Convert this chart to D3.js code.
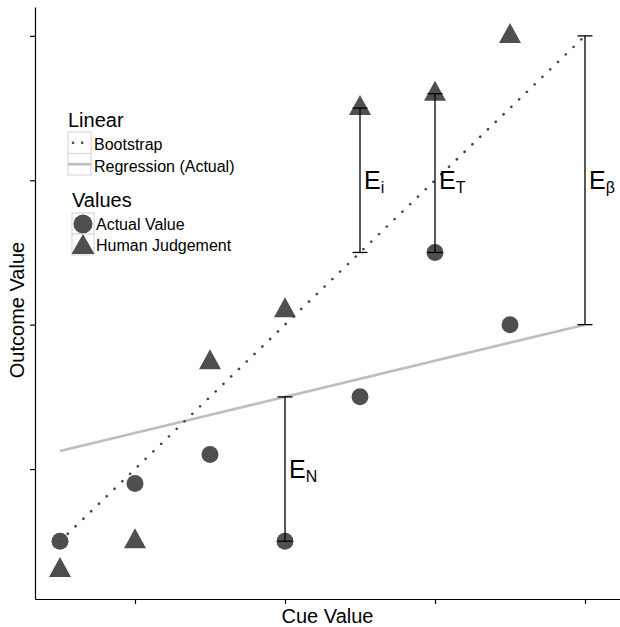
<!DOCTYPE html>
<html>
<head>
<meta charset="utf-8">
<script src="https://cdn.jsdelivr.net/npm/d3@7/dist/d3.min.js"></script>
<style>
  body { margin: 0; background: #fff; }
  svg { display: block; font-family: "Liberation Sans", Arial, sans-serif; }
</style>
</head>
<body>
<div id="chart"></div>
<script>
// chart values
const cueValues = [1, 2, 3, 4, 5, 6, 7];
const actualValues = [2.5, 4.5, 5.5, 2.5, 7.5, 12.5, 10];
const humanJudgements = [1.5, 2.5, 8.7, 10.5, 17.5, 18, 20];

const lineCue = [1, 8];
const bootstrapLine = [2.5, 20];
const regressionLine = [5.625, 10];

const errCue = [5, 6, 8, 4];
const errLow = [12.5, 12.5, 10, 2.5];
const errHigh = [17.5, 18, 20, 7.5];
const errSub = ["i", "T", "β", "N"];
const errLabelAt = [15, 15, 15, 5];

const xTicks = [2, 4, 6, 8];
const yTicks = [5, 10, 15, 20];

const width = 620;
const height = 627;
const margin = { t: 7, r: 0, b: 28, l: 35 };

const pointColor = "#4f4f4f";
const regColor = "#bebebe";

const svg = d3
  .select("#chart")
  .append("svg")
  .attr("width", width)
  .attr("height", height);

const xScale = d3
  .scaleLinear()
  .domain([2 / 3, 8.4667])
  .range([margin.l, width - margin.r]);

const yScale = d3
  .scaleLinear()
  .domain([0.5, 21])
  .range([height - margin.b, margin.t]);

// axes, no tick labels
svg
  .append("g")
  .attr("transform", `translate(0, ${height - margin.b})`)
  .call(d3.axisBottom(xScale).tickValues(xTicks).tickSize(5).tickFormat("").tickSizeOuter(0))
  .call((g) => g.selectAll("line, path").attr("stroke", "#000").attr("stroke-width", 1.2));

svg
  .append("g")
  .attr("transform", `translate(${margin.l}, 0)`)
  .call(d3.axisLeft(yScale).tickValues(yTicks).tickSize(5).tickFormat("").tickSizeOuter(0))
  .call((g) => g.selectAll("line, path").attr("stroke", "#000").attr("stroke-width", 1.2));

svg
  .append("text")
  .attr("x", (margin.l + width) / 2)
  .attr("y", 623)
  .attr("text-anchor", "middle")
  .attr("font-size", "20px")
  .text("Cue Value");

svg
  .append("text")
  .attr("transform", `translate(24, ${(margin.t + height - margin.b) / 2 + 7}) rotate(-90)`)
  .attr("text-anchor", "middle")
  .attr("font-size", "20px")
  .text("Outcome Value");

// triangle path centred on the data point (point sits low in the shape)
function triangle(cx, cy, w, h) {
  const top = cy - h * 0.65;
  const bot = cy + h * 0.35;
  return `M${cx},${top}L${cx + w / 2},${bot}L${cx - w / 2},${bot}Z`;
}

const plot = svg.append("g");

plot
  .selectAll("circle.actual")
  .data(cueValues)
  .enter()
  .append("circle")
  .attr("class", "actual")
  .attr("cx", (d) => xScale(d))
  .attr("cy", (d, i) => yScale(actualValues[i]))
  .attr("r", 8.5)
  .attr("fill", pointColor);

plot
  .selectAll("path.human")
  .data(cueValues)
  .enter()
  .append("path")
  .attr("class", "human")
  .attr("d", (d, i) => triangle(xScale(d), yScale(humanJudgements[i]), 22, 20))
  .attr("fill", pointColor);

// lines
plot
  .append("line")
  .attr("x1", xScale(lineCue[0]))
  .attr("x2", xScale(lineCue[1]))
  .attr("y1", yScale(regressionLine[0]))
  .attr("y2", yScale(regressionLine[1]))
  .attr("stroke", regColor)
  .attr("stroke-width", 2.6);

plot
  .append("line")
  .attr("x1", xScale(lineCue[0]))
  .attr("x2", xScale(lineCue[1]))
  .attr("y1", yScale(bootstrapLine[0]))
  .attr("y2", yScale(bootstrapLine[1]))
  .attr("stroke", "#444")
  .attr("stroke-width", 2.6)
  .attr("stroke-linecap", "round")
  .attr("stroke-dasharray", "0.1 10.7");

// error bars
const bars = plot
  .selectAll("g.err")
  .data(errCue)
  .enter()
  .append("g")
  .attr("class", "err");

bars
  .append("line")
  .attr("x1", (d) => xScale(d))
  .attr("x2", (d) => xScale(d))
  .attr("y1", (d, i) => yScale(errLow[i]))
  .attr("y2", (d, i) => yScale(errHigh[i]))
  .attr("stroke", "#000")
  .attr("stroke-width", 1.3);

[errLow, errHigh].forEach((ends) => {
  bars
    .append("line")
    .attr("x1", (d) => xScale(d) - 7.5)
    .attr("x2", (d) => xScale(d) + 7.5)
    .attr("y1", (d, i) => yScale(ends[i]))
    .attr("y2", (d, i) => yScale(ends[i]))
    .attr("stroke", "#000")
    .attr("stroke-width", 1.3);
});

const labels = bars
  .append("text")
  .attr("x", (d) => xScale(d) + 4)
  .attr("y", (d, i) => yScale(errLabelAt[i]) + 9)
  .attr("font-size", "25px")
  .attr("fill", "#000");

labels.append("tspan").text("E");
labels
  .append("tspan")
  .attr("dy", 4)
  .attr("font-size", "16px")
  .text((d, i) => errSub[i]);

// legend
const legend = svg.append("g");

legend
  .append("text")
  .attr("x", 68)
  .attr("y", 127)
  .attr("font-size", "20px")
  .text("Linear");

const linearKeys = ["Bootstrap", "Regression (Actual)"];
linearKeys.forEach((name, i) => {
  const y0 = 132 + i * 21.5;
  legend
    .append("rect")
    .attr("x", 68)
    .attr("y", y0)
    .attr("width", 23)
    .attr("height", 21.5)
    .attr("fill", "#fff")
    .attr("stroke", "#d4d4d4")
    .attr("stroke-width", 1);
  const key = legend
    .append("line")
    .attr("x1", 68)
    .attr("x2", 91)
    .attr("y1", y0 + 10.75)
    .attr("y2", y0 + 10.75)
    .attr("stroke-width", 2.6);
  if (i === 0) {
    key
      .attr("x1", 73)
      .attr("x2", 84)
      .attr("stroke", "#444")
      .attr("stroke-linecap", "round")
      .attr("stroke-dasharray", "0.1 9");
  } else {
    key.attr("stroke", regColor);
  }
  legend
    .append("text")
    .attr("x", 94)
    .attr("y", y0 + 18)
    .attr("font-size", "16px")
    .text(name);
});

legend
  .append("text")
  .attr("x", 72)
  .attr("y", 207)
  .attr("font-size", "20px")
  .text("Values");

const valueKeys = ["Actual Value", "Human Judgement"];
valueKeys.forEach((name, i) => {
  const y0 = 213 + i * 21;
  legend
    .append("rect")
    .attr("x", 72)
    .attr("y", y0)
    .attr("width", 22)
    .attr("height", 21)
    .attr("fill", "#fff")
    .attr("stroke", "#d4d4d4")
    .attr("stroke-width", 1);
  if (i === 0) {
    legend
      .append("circle")
      .attr("cx", 83)
      .attr("cy", y0 + 11)
      .attr("r", 9.5)
      .attr("fill", pointColor);
  } else {
    legend
      .append("path")
      .attr("d", triangle(83, y0 + 13, 23, 20))
      .attr("fill", pointColor);
  }
  legend
    .append("text")
    .attr("x", 96)
    .attr("y", y0 + 17)
    .attr("font-size", "16px")
    .text(name);
});
</script>
</body>
</html>
